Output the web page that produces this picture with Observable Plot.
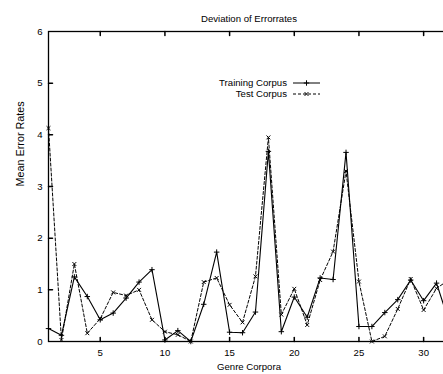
<!DOCTYPE html>
<html>
<head>
<meta charset="utf-8">
<script src="https://cdn.jsdelivr.net/npm/d3@7"></script>
<script src="https://cdn.jsdelivr.net/npm/@observablehq/plot@0.6"></script>
<style>
  html, body { margin: 0; padding: 0; background: #fff; overflow: hidden; }
  #chart { width: 443px; height: 374px; overflow: hidden; }
  #chart svg { max-width: none !important; width: 450px; height: 374px; }
</style>
</head>
<body>
<div id="chart"></div>
<script>
const genres = [1,2,3,4,5,6,7,8,9,10,11,12,13,14,15,16,17,18,19,20,21,22,23,24,25,26,27,28,29,30,31,32];
const training = [0.25,0.12,1.25,0.87,0.42,0.55,0.84,1.15,1.39,0.03,0.21,0.0,0.72,1.73,0.18,0.17,0.57,3.68,0.19,0.86,0.47,1.23,1.2,3.66,0.29,0.29,0.56,0.81,1.19,0.79,1.13,0.35];
const test = [4.13,0.03,1.5,0.16,0.44,0.95,0.89,1.0,0.42,0.19,0.13,0.0,1.15,1.23,0.71,0.37,1.26,3.95,0.52,1.02,0.32,1.19,1.74,3.3,1.16,0.0,0.1,0.63,1.21,0.61,1.03,1.2];
const xTicks = [5,10,15,20,25,30];
const yTicks = [0,1,2,3,4,5,6];
const seriesNames = ["Training Corpus", "Test Corpus"];
const titleText = "Deviation of Errorrates";
const xLabel = "Genre Corpora";
const yLabel = "Mean Error Rates";

const trainRows = genres.map((g, i) => ({x: g, y: training[i]}));
const testRows = genres.map((g, i) => ({x: g, y: test[i]}));

const tick = {draw(ctx, l) { ctx.moveTo(0, 0); ctx.lineTo(0, -l); }};
const R = 1.9;

const chart = Plot.plot({
  width: 450,
  height: 374,
  marginLeft: 48,
  marginRight: 1,
  marginTop: 31,
  marginBottom: 33,
  style: {fontFamily: "'Liberation Sans', Arial, sans-serif", fontSize: "9.6px", color: "#000", background: "#fff", maxWidth: "none"},
  x: {domain: [1, 32]},
  y: {domain: [0, 6]},
  marks: [
    Plot.axisX({ticks: xTicks, tickFormat: "d", tickSize: 0, tickPadding: 8, label: null, fontSize: 9.6}),
    Plot.axisY({ticks: yTicks, tickFormat: "d", tickSize: 0, tickPadding: 6, label: null, fontSize: 9.6}),
    Plot.vector(xTicks, {x: d => d, frameAnchor: "bottom", length: 4, rotate: 0, anchor: "start", shape: tick, stroke: "#000"}),
    Plot.vector(xTicks, {x: d => d, frameAnchor: "top", length: 4, rotate: 180, anchor: "start", shape: tick, stroke: "#000"}),
    Plot.vector(yTicks.slice(1, -1), {y: d => d, frameAnchor: "left", length: 4, rotate: 90, anchor: "start", shape: tick, stroke: "#000"}),
    Plot.line(trainRows, {x: "x", y: "y", stroke: "#000", strokeWidth: 1.1, clip: true}),
    Plot.line(testRows, {x: "x", y: "y", stroke: "#000", strokeWidth: 1, strokeDasharray: "3,2", clip: true}),
    Plot.dot(trainRows, {x: "x", y: "y", symbol: "plus", r: R, stroke: "#000", strokeWidth: 1}),
    Plot.dot(testRows, {x: "x", y: "y", symbol: "times", r: R, stroke: "#000", strokeWidth: 1}),
    Plot.frame({stroke: "#000", strokeWidth: 1.3}),
    Plot.text([titleText], {text: d => d, frameAnchor: "top", dy: -16, fontSize: 9.6, fill: "#000"}),
    Plot.text([xLabel], {text: d => d, frameAnchor: "bottom", dy: 28, fontSize: 9.6, fill: "#000"}),
    Plot.text([yLabel], {text: d => d, frameAnchor: "left", dx: -27.5, rotate: -90, fontSize: 10.8, fill: "#000"})
  ]
});

// legend (key)
const svg = d3.select(chart);
const key = svg.append("g")
  .attr("font-family", "'Liberation Sans', Arial, sans-serif")
  .attr("font-size", 9.6);
const rows = [
  {name: seriesNames[0], dash: null, sym: d3.symbolPlus, dy: 83},
  {name: seriesNames[1], dash: "3,2", sym: d3.symbolTimes, dy: 94}
];
rows.forEach(r => {
  key.append("text").attr("x", 287).attr("y", r.dy).attr("dy", "0.35em")
    .attr("text-anchor", "end").attr("fill", "#000").text(r.name);
  key.append("line").attr("x1", 293).attr("x2", 320).attr("y1", r.dy).attr("y2", r.dy)
    .attr("stroke", "#000").attr("stroke-width", 1).attr("stroke-dasharray", r.dash);
  key.append("path").attr("transform", `translate(306.5,${r.dy})`)
    .attr("d", d3.symbol().type(r.sym).size(Math.PI * R * R)())
    .attr("fill", "none").attr("stroke", "#000").attr("stroke-width", 1);
});

document.getElementById("chart").appendChild(chart);
</script>
</body>
</html>
